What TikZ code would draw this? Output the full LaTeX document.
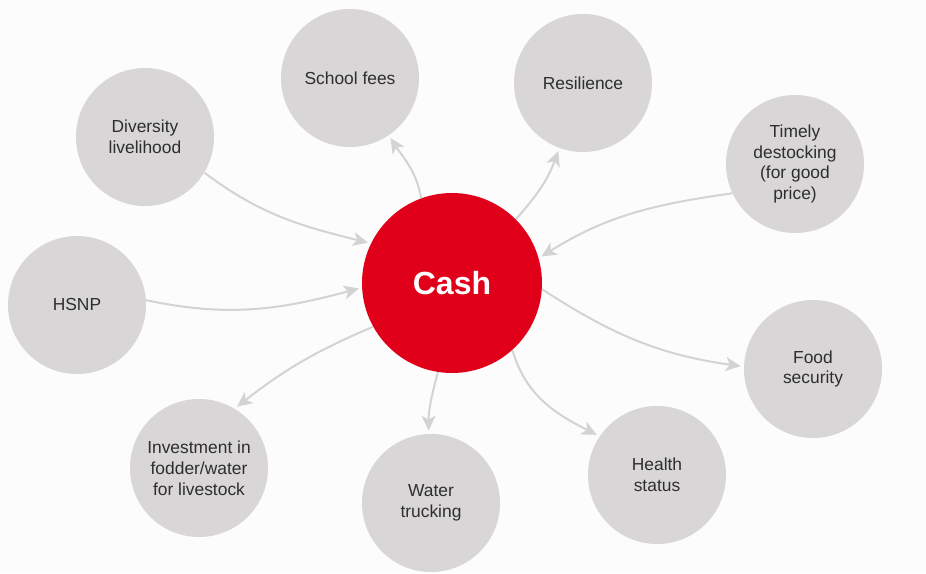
\documentclass[tikz,border=0pt]{standalone}
\usepackage{fontspec}
\setmainfont{Liberation Sans}
\usetikzlibrary{arrows.meta}
\definecolor{cashred}{HTML}{E1001A}
\definecolor{bubblegray}{HTML}{D8D6D6}
\definecolor{linkgray}{HTML}{D3D3D3}
\definecolor{labelgray}{HTML}{2E2E2E}
\definecolor{paper}{HTML}{FCFCFC}
\begin{document}
\begin{tikzpicture}[x=0.5pt,y=0.5pt]
            \tikzstyle{cash node}=[circle,fill=cashred,text=white,minimum size=90pt,inner sep=0,font=\fontsize{16}{19}\selectfont\bfseries]
            \tikzstyle{gray node}=[circle,fill=bubblegray,text=labelgray,minimum size=69pt,inner sep=0,align=center,font=\fontsize{8.7}{10.4}\selectfont]
            \tikzstyle{link}=[draw=linkgray,line width=1pt,shorten >=1.5pt,-{Stealth[length=7.5pt,width=7pt,inset=2pt]}]

            % background
            \fill[paper] (0,0) rectangle (926,-573);

            \node(cash)[cash node] at (452,-283) {Cash};

            \node(div)[gray node] at (145,-137) {Diversity\\livelihood};
            \node(fees)[gray node] at (350,-78) {School fees};
            \node(resil)[gray node] at (583,-83) {Resilience};
            \node(timely)[gray node] at (795,-164) {Timely\\destocking\\(for good\\price)};
            \node(hsnp)[gray node] at (77,-305) {HSNP};
            \node(food)[gray node] at (813,-369) {Food\\security};
            \node(invest)[gray node] at (199,-468) {Investment in\\fodder/water\\for livestock};
            \node(water)[gray node] at (431,-503) {Water\\trucking};
            \node(health)[gray node] at (657,-475) {Health\\status};

            % into cash
            \draw[link] (div.-31) to[out=-37,in=166] (cash.154);
            \draw[link] (hsnp.4) to[out=-12,in=195] (cash.183);
            \draw[link] (timely.205) to[out=188,in=32] (cash.16);

            % out of cash
            \draw[link] (cash.110) to[out=100,in=-57] (fees.-56);
            \draw[link] (cash.45) to[out=48,in=250] (resil.250);
            \draw[link] (cash.209) to[out=203,in=38] (invest.59);
            \draw[link] (cash.261) to[out=-105,in=90] (water.92);
            \draw[link] (cash.-48) to[out=-74,in=153] (health.146);
            \draw[link] (cash.-4) to[out=-33,in=172] (food.178);
\end{tikzpicture}
\end{document}
